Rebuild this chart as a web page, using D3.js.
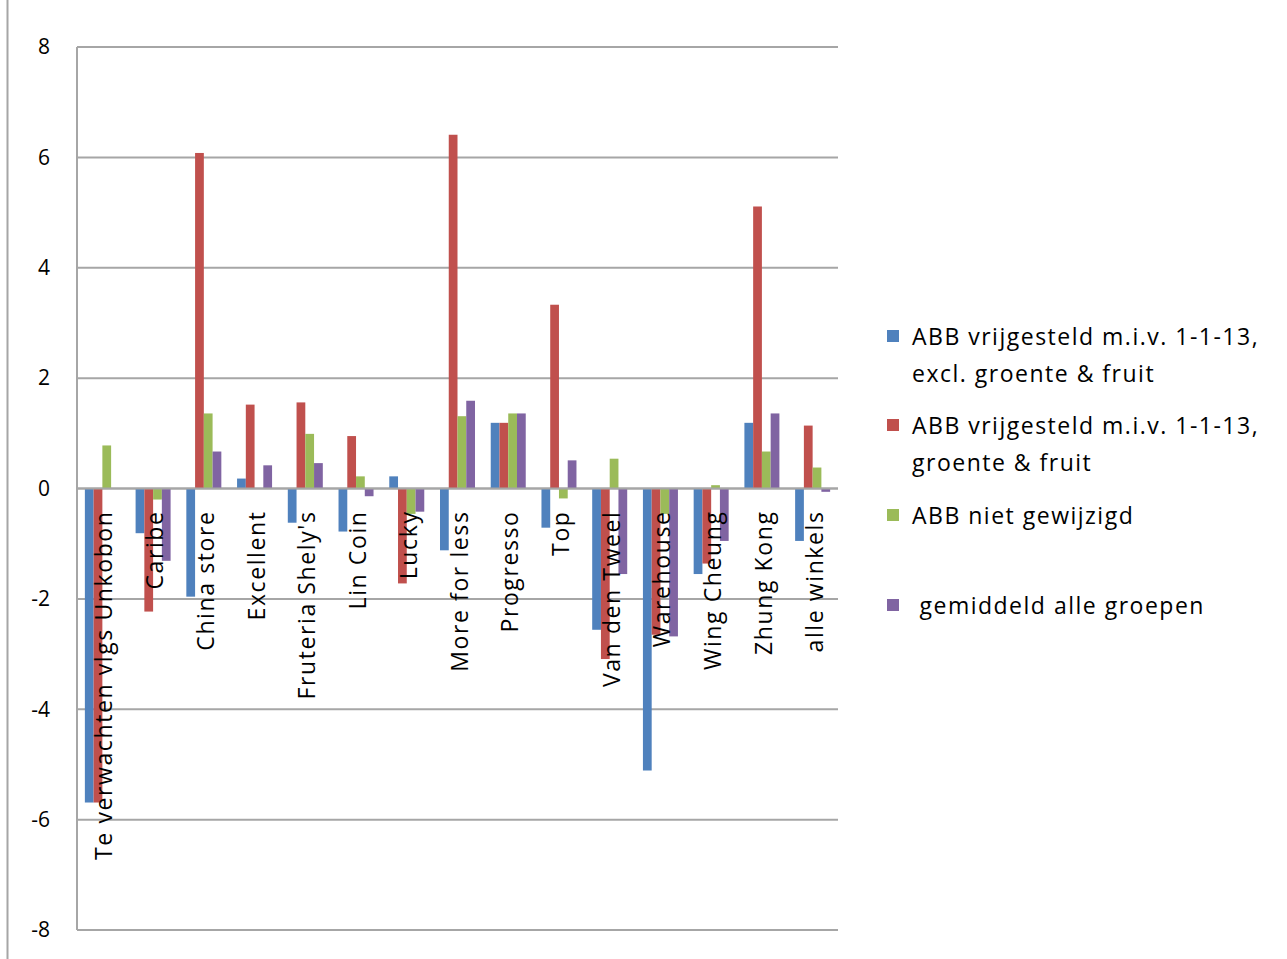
<!DOCTYPE html>
<html>
<head>
<meta charset="utf-8">
<script src="https://cdn.jsdelivr.net/npm/d3@7"></script>
<style>
  html, body { margin: 0; padding: 0; background: #fff; }
  svg { display: block; }
</style>
</head>
<body>
<svg id="chart" width="1287" height="959"></svg>
<script>
const categories = ["Te verwachten vlgs Unkobon", "Caribe", "China store", "Excellent", "Fruteria Shely's", "Lin Coin", "Lucky", "More for less", "Progresso", "Top", "Van den Tweel", "Warehouse", "Wing Cheung", "Zhung Kong", "alle winkels"];
const seriesNames = ["ABB vrijgesteld m.i.v. 1-1-13, excl. groente & fruit", "ABB vrijgesteld m.i.v. 1-1-13, groente & fruit", "ABB niet gewijzigd", "gemiddeld alle groepen"];
const legendLines = [["ABB vrijgesteld m.i.v. 1-1-13,", "excl. groente & fruit"], ["ABB vrijgesteld m.i.v. 1-1-13,", "groente & fruit"], ["ABB niet gewijzigd"], [" gemiddeld alle groepen"]];
const blueValues   = [-5.69, -0.81, -1.96, 0.18, -0.62, -0.78, 0.22, -1.12, 1.19, -0.71, -2.56, -5.11, -1.55, 1.19, -0.95];
const redValues    = [-5.69, -2.23, 6.08, 1.52, 1.56, 0.95, -1.72, 6.41, 1.19, 3.33, -3.09, -2.65, -1.36, 5.11, 1.14];
const greenValues  = [0.78, -0.20, 1.36, null, 0.99, 0.22, -0.46, 1.31, 1.36, -0.18, 0.54, -0.46, 0.06, 0.67, 0.38];
const purpleValues = [null, -1.31, 0.67, 0.42, 0.46, -0.14, -0.42, 1.59, 1.36, 0.51, -1.55, -2.68, -0.95, 1.36, -0.06];
const yTicks = [8, 6, 4, 2, 0, -2, -4, -6, -8];
const colors = ["#4F81BD", "#C0504D", "#9BBB59", "#8064A2"];

const series = [blueValues, redValues, greenValues, purpleValues];
const svg = d3.select("#chart");
const font = "'Open Sans', 'DejaVu Sans', sans-serif";

const plot = { left: 77, right: 838, top: 47, bottom: 930 };

const x = d3.scaleBand().domain(categories).range([plot.left, plot.right]).paddingInner(0.31).paddingOuter(0.155);
const xs = d3.scaleBand().domain(d3.range(series.length)).range([0, x.bandwidth()]);
const y = d3.scaleLinear().domain([-8, 8]).range([plot.bottom, plot.top]);

// outer chart border (left edge)
svg.append("line").attr("x1", 7.5).attr("x2", 7.5).attr("y1", 0).attr("y2", 959)
  .attr("stroke", "#a6a6a6").attr("stroke-width", 2);

// gridlines
svg.append("g").selectAll("line").data(yTicks).join("line")
  .attr("x1", plot.left).attr("x2", plot.right)
  .attr("y1", d => y(d)).attr("y2", d => y(d))
  .attr("stroke", "#a6a6a6").attr("stroke-width", 2);

// left axis line
svg.append("line").attr("x1", plot.left).attr("x2", plot.left)
  .attr("y1", y(8)).attr("y2", y(-8)).attr("stroke", "#a6a6a6").attr("stroke-width", 2);

// y tick labels
svg.append("g").selectAll("text").data(yTicks).join("text")
  .attr("x", 50).attr("y", d => y(d)).attr("dy", "0.35em")
  .attr("text-anchor", "end").attr("font-family", font).attr("font-size", 21)
  .attr("fill", "#000").text(d => d);

// bars
const groups = svg.append("g").selectAll("g").data(categories).join("g")
  .attr("transform", d => `translate(${x(d)},0)`);
groups.selectAll("rect")
  .data((c, i) => series.map((s, k) => ({ k, v: s[i] })).filter(d => d.v !== null))
  .join("rect")
  .attr("x", d => xs(d.k)).attr("width", xs.bandwidth())
  .attr("y", d => y(Math.max(0, d.v)))
  .attr("height", d => Math.abs(y(d.v) - y(0)))
  .attr("fill", d => colors[d.k]);

// zero axis line on top of bars
svg.append("line").attr("x1", plot.left).attr("x2", plot.right)
  .attr("y1", y(0)).attr("y2", y(0)).attr("stroke", "#a6a6a6").attr("stroke-width", 2);

// category labels (rotated, overlapping the bars)
svg.append("g").selectAll("text").data(categories).join("text")
  .attr("transform", d => `translate(${x(d) + x.bandwidth() / 2 + 10},${y(0) + 22}) rotate(-90)`)
  .attr("text-anchor", "end").attr("font-family", font).attr("font-size", 23)
  .attr("letter-spacing", 1.6)
  .attr("fill", "#000").text(d => d);

// legend
const legendTop = [336, 425, 515, 605];
const leg = svg.append("g").selectAll("g").data(seriesNames).join("g")
  .attr("transform", (d, i) => `translate(887,${legendTop[i]})`);
leg.append("rect").attr("x", 0).attr("y", -6).attr("width", 12).attr("height", 12)
  .attr("fill", (d, i) => colors[i]);
leg.each(function(d, i) {
  const g = d3.select(this);
  const t = g.append("text").attr("font-family", font).attr("font-size", 23).attr("fill", "#000")
    .attr("letter-spacing", 1.5)
    .attr("xml:space", "preserve").style("white-space", "pre");
  legendLines[i].forEach((line, j) => {
    t.append("tspan").attr("x", 25).attr("y", 9 + j * 37).text(line);
  });
});
</script>
</body>
</html>
